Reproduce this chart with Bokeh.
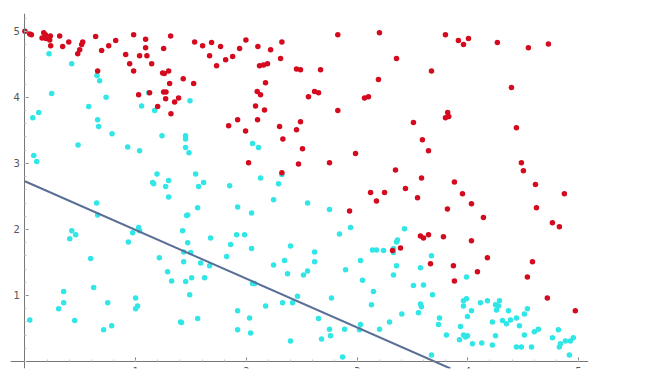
from bokeh.plotting import figure
from bokeh.models import Range1d, FixedTicker, Label
from bokeh.embed import file_html
from bokeh.resources import INLINE
import numpy as np

# red class points
red_x = [0.00,0.044,0.059,0.17,0.185,0.155,0.19,0.23,0.224,0.233,0.314,0.341,0.396,0.477,0.495,0.513,0.522,0.639,0.657,0.693,
         0.757,0.820,0.91,0.946,0.982,0.982,1.027,1.036,1.09,1.09,1.102,1.126,1.145,1.199,1.244,1.253,1.259,1.253,1.274,1.271,
         1.298,1.307,1.316,1.319,1.352,1.388,1.43,1.524,1.533,1.605,1.668,1.686,1.731,1.767,1.813,1.84,1.876,1.921,1.939,1.996,
         1.993,2.02,2.083,2.098,2.104,2.101,2.119,2.128,2.155,2.164,2.173,2.191,2.219,2.30,2.309,2.321,2.33,2.321,2.453,2.453,
         2.471,2.489,2.489,2.507,2.561,2.616,2.652,2.67,2.751,
         2.826,3.202,3.356,3.193,3.067,3.103,2.826,3.672,3.798,3.915,3.961,4.006,4.267,4.547,4.728,4.394,3.818,3.798,3.828,3.509,
         3.59,3.645,2.986,3.347,3.582,3.879,4.439,4.484,4.502,4.611,3.437,
         3.122,3.248,3.175,3.546,2.932,3.952,4.033,3.816,4.141,4.872,4.62,4.764,4.827,3.572,3.6,3.645,3.780,4.033,3.392,3.32,
         4.177,3.663,3.870,4.584,4.087,4.538,3.879,4.718,4.971]
red_y = [5.00,4.96,4.95,4.98,4.95,4.90,4.89,4.93,4.87,4.78,4.93,4.77,4.84,4.66,4.72,4.80,4.84,4.92,4.40,4.71,
         4.78,4.86,4.65,4.51,4.40,4.95,4.04,4.63,4.88,4.75,4.63,4.07,4.51,3.86,4.37,4.74,4.36,4.08,4.08,3.98,
         4.40,4.21,4.93,3.75,3.93,3.99,4.28,4.21,4.84,4.78,4.63,4.83,4.48,4.77,4.57,3.57,4.62,3.66,4.74,4.87,
         3.49,3.01,3.87,4.09,4.77,3.66,4.48,4.04,4.49,3.81,4.22,4.51,4.72,3.56,4.59,4.84,3.37,2.86,4.43,3.51,
         2.99,4.42,3.63,3.22,4.01,4.09,4.07,4.42,3.01,
         4.95,4.98,4.59,4.27,3.99,4.01,3.80,4.40,4.95,4.86,4.80,4.89,4.83,4.75,4.81,4.15,3.77,3.69,3.71,3.62,
         3.36,3.19,3.15,2.90,2.78,2.72,3.54,3.01,2.89,2.68,2.62,
         2.56,2.56,2.43,2.48,2.28,2.54,2.39,2.31,2.18,2.54,2.33,2.10,2.04,1.90,1.87,1.92,1.89,1.83,1.72,1.68,
         1.57,1.48,1.45,1.51,1.36,1.28,1.22,0.96,0.77]

# cyan class points
cyan_x = [0.218,0.423,0.242,0.071,0.125,0.08,0.107,0.48,0.576,0.651,0.675,0.733,0.657,0.666,0.787,0.928,1.036,1.054,1.118,1.172,
          1.193,1.154,1.163,1.238,1.271,1.298,1.451,1.451,1.451,1.482,1.491,1.542,1.569,1.614,1.849,2.056,2.11,2.128,2.291,2.321,
          0.044,0.305,0.35,0.35,0.45,0.405,0.423,0.459,0.594,0.621,0.648,0.657,0.711,0.748,0.784,0.934,0.973,1.0,1.0,1.018,
          1.027,1.036,1.214,1.289,1.298,1.325,1.406,1.415,1.424,1.434,1.434,1.452,1.461,1.47,1.47,1.488,1.497,1.506,1.56,1.56,
          1.587,1.623,1.668,1.677,1.822,1.858,1.921,1.912,1.921,1.921,1.984,2.029,2.038,2.047,2.047,2.056,2.074,2.174,2.246,2.246,
          2.327,2.345,2.372,2.399,2.399,2.417,2.462,2.516,2.553,2.553,2.616,2.616,2.652,2.679,2.751,2.751,2.76,2.769,
          2.841,2.941,3.428,3.139,3.175,3.239,3.356,3.365,3.329,3.329,3.031,2.896,3.356,3.672,3.572,3.329,3.049,3.509,3.6,3.988,
          3.148,3.681,3.13,3.572,3.581,3.404,3.554,3.961,3.988,3.961,4.114,4.177,4.25,4.277,4.286,4.259,4.033,3.997,4.367,4.538,
          4.511,3.744,3.735,3.293,3.203,2.887,3.031,3.022,3.934,4.313,4.349,4.385,4.439,4.466,4.222,4.637,4.601,4.818,4.764,4.836,
          4.827,4.881,4.926,4.953,4.917,4.511,4.25,4.222,4.126,4.042,3.961,3.997,3.979,3.925,3.807,4.439,4.484,4.575,3.672,2.869]
cyan_y = [4.66,4.51,4.06,3.69,3.77,3.12,3.03,3.28,3.86,4.33,4.25,4.00,3.66,3.56,3.45,3.25,3.19,3.87,4.07,3.80,
          2.84,2.71,2.69,3.42,2.65,2.74,3.42,3.37,3.24,3.16,3.95,2.84,2.65,2.71,2.66,3.30,3.24,2.78,2.69,2.83,
          0.63,0.80,1.06,0.89,0.62,1.86,1.98,1.92,1.56,1.12,2.40,2.22,0.48,0.89,0.54,1.81,1.95,0.96,0.80,0.84,
          2.03,1.98,1.57,1.36,2.49,1.22,0.60,0.59,1.98,1.51,1.66,1.21,2.21,2.22,1.80,1.01,1.65,1.27,2.33,0.65,
          1.49,1.27,1.45,1.87,1.59,1.77,2.34,1.92,0.77,0.48,1.92,0.66,0.43,2.25,1.71,1.18,1.18,0.84,2.45,1.46,
          0.89,1.53,1.33,1.75,0.31,0.89,0.99,1.31,2.40,1.37,1.66,1.51,0.65,0.34,2.30,0.49,0.39,0.96,
          1.93,2.03,2.01,1.69,1.69,1.68,1.81,1.84,1.71,1.65,1.53,1.39,1.45,1.60,1.42,1.31,1.23,1.15,1.16,1.28,
          1.06,1.01,0.86,0.87,0.83,0.72,0.74,0.92,0.95,0.84,0.89,0.92,0.86,0.84,0.92,0.78,0.77,0.68,0.77,0.80,
          0.72,0.66,0.56,0.60,0.49,0.49,0.56,0.48,0.53,0.62,0.57,0.63,0.66,0.54,0.60,0.49,0.45,0.48,0.36,0.27,
          0.22,0.31,0.31,0.36,0.10,0.40,0.39,0.25,0.28,0.27,0.40,0.39,0.37,0.33,0.40,0.22,0.22,0.22,0.10,0.07]

# separating line parameters
line_intercept = 2.73
line_slope = -0.738

x_ticks = [1, 2, 3, 4, 5]
y_ticks = [1, 2, 3, 4, 5]

X_MIN, X_MAX = -0.13, 5.09
Y_MIN, Y_MAX = -0.106, 5.27

p = figure(width=670, height=382, output_backend="svg", toolbar_location=None,
           x_range=Range1d(X_MIN, X_MAX), y_range=Range1d(Y_MIN, Y_MAX),
           min_border_left=10, min_border_right=82, min_border_top=13, min_border_bottom=14)
p.outline_line_color = None
p.grid.visible = False
p.background_fill_color = "white"

minor = [round(v, 2) for v in np.arange(0, 5.21, 0.2)]
for ax, ticks in ((p.xaxis[0], x_ticks), (p.yaxis[0], y_ticks)):
    ax.fixed_location = 0
    ax.ticker = FixedTicker(ticks=ticks, minor_ticks=minor)
    ax.axis_line_color = "#777777"
    ax.axis_line_width = 1
    ax.major_tick_line_color = "#777777"
    ax.major_tick_in = 4
    ax.major_tick_out = 0
    ax.minor_tick_line_color = "#c4c4c4"
    ax.minor_tick_in = 2
    ax.minor_tick_out = 0
    ax.major_label_text_font = "DejaVu Sans"
    ax.major_label_text_font_size = "10px"
    ax.major_label_text_color = "#555555"
p.xaxis.major_label_standoff = 5
p.yaxis.major_label_standoff = 5

p.scatter(cyan_x, cyan_y, size=5.5, color="#30e6e6", line_color=None)
p.scatter(red_x, red_y, size=5.5, color="#d40a1e", line_color=None)

x_end = (Y_MIN - line_intercept) / line_slope
p.line([0, x_end], [line_intercept, line_intercept + line_slope * x_end],
       line_color="#5a6f96", line_width=2)

p.add_layout(Label(x=-0.215, y=2.54, text="=", text_font="DejaVu Sans",
                   text_font_size="10px", text_color="#666666", text_baseline="middle"))

open("out.html", "w").write(file_html(p, INLINE))
